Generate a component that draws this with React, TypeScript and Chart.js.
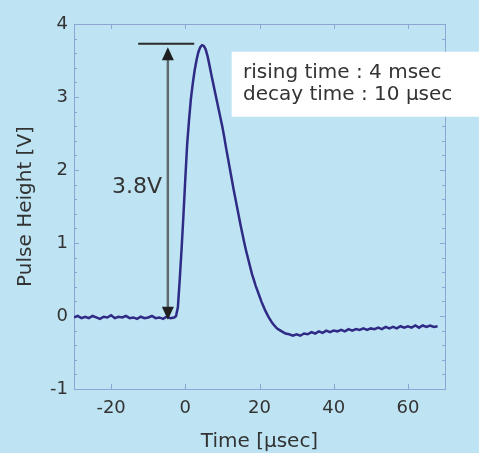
import React, { useEffect, useRef } from 'react';
import { Chart, registerables } from 'chart.js';

Chart.register(...registerables);

// ---- data ----
const timeUs = [
  -30, -29, -28, -27, -26, -25, -24, -23, -22, -21, -20, -19, -18, -17, -16, -15, -14, -13, -12, -11,
  -10, -9, -8, -7, -6, -5, -4, -3, -2.5, -2, -1.5, -1, -0.5, 0, 0.5, 1, 1.5, 2, 2.5, 3,
  3.5, 4, 4.5, 5, 5.5, 6, 6.5, 7, 7.5, 8, 8.5, 9, 9.5, 10, 10.5, 11, 11.5, 12, 12.5, 13,
  13.5, 14, 14.5, 15, 15.5, 16, 16.5, 17, 17.5, 18, 18.5, 19, 19.5, 20, 20.5, 21, 21.5, 22, 22.5, 23,
  23.5, 24, 24.5, 25, 26, 27, 28, 29, 30, 31, 32, 33, 34, 35, 36, 37, 38, 39, 40, 41,
  42, 43, 44, 45, 46, 47, 48, 49, 50, 51, 52, 53, 54, 55, 56, 57, 58, 59, 60, 61,
  62, 63, 64, 65, 66, 67, 68,
];
const pulseV = [
  -0.02, 0.0, -0.03, -0.01, -0.03, 0.0, -0.02, -0.04, -0.01, -0.02, 0.01, -0.03, -0.01, -0.02, 0.0, -0.03, -0.02, -0.04, -0.01, -0.03,
  -0.02, 0.0, -0.03, -0.02, -0.04, -0.01, -0.03, -0.02, 0.0, 0.12, 0.5, 0.92, 1.38, 1.88, 2.35, 2.68, 2.97, 3.18, 3.36, 3.5,
  3.61, 3.68, 3.71, 3.7, 3.65, 3.56, 3.44, 3.31, 3.19, 3.07, 2.95, 2.83, 2.71, 2.59, 2.45, 2.3, 2.16, 2.02, 1.88, 1.74,
  1.61, 1.48, 1.35, 1.22, 1.1, 0.98, 0.87, 0.77, 0.67, 0.57, 0.49, 0.41, 0.34, 0.27, 0.2, 0.14, 0.08, 0.03, -0.02, -0.06,
  -0.1, -0.13, -0.16, -0.18, -0.21, -0.24, -0.25, -0.27, -0.25, -0.27, -0.24, -0.25, -0.22, -0.24, -0.21, -0.23, -0.2, -0.22, -0.2, -0.21,
  -0.19, -0.21, -0.18, -0.2, -0.18, -0.19, -0.17, -0.19, -0.17, -0.18, -0.16, -0.18, -0.15, -0.17, -0.15, -0.17, -0.14, -0.16, -0.14, -0.16,
  -0.13, -0.16, -0.13, -0.15, -0.13, -0.15, -0.14,
];
const xTicks = [-20, 0, 20, 40, 60];
const yTicks = [-1, 0, 1, 2, 3, 4];
const xRange = [-30, 70];
const yRange = [-1, 4];
const xTitle = 'Time [µsec]';
const yTitle = 'Pulse Height [V]';
const noteLines = ['rising time : 4 msec', 'decay time : 10 µsec'];
const heightLabel = '3.8V';
// arrow annotation (data coordinates)
const arrowX = -4.7;
const arrowTopV = 3.68;
const arrowBottomV = -0.05;
const capLineV = 3.73;
const capLineFrom = -12.7;
const capLineTo = 2.4;

const FONT = '"DejaVu Sans", "Liberation Sans", sans-serif';
const BG = '#bee4f3';
const FRAME = '#8ea4d2';
const TEXT = '#333333';
const LINE = '#2f2a86';

const overlay = {
  id: 'overlay',
  beforeDatasetsDraw(chart: any) {
    const { ctx, chartArea: a, scales } = chart;
    const xs = scales.x;
    const ys = scales.y;
    ctx.save();
    ctx.strokeStyle = FRAME;
    ctx.lineWidth = 1;
    ctx.strokeRect(Math.round(a.left) + 0.5, Math.round(a.top) + 0.5, Math.round(a.right - a.left), Math.round(a.bottom - a.top));
    ctx.beginPath();
    for (let i = 0; i <= 25; i++) {
      const v = yRange[0] + i * 0.2;
      const y = Math.round(ys.getPixelForValue(v)) + 0.5;
      const len = i % 5 === 0 ? 5 : 3;
      ctx.moveTo(a.left, y);
      ctx.lineTo(a.left + len, y);
      ctx.moveTo(a.right, y);
      ctx.lineTo(a.right - len, y);
    }
    for (const v of xTicks) {
      const x = Math.round(xs.getPixelForValue(v)) + 0.5;
      ctx.moveTo(x, a.bottom);
      ctx.lineTo(x, a.bottom - 5);
      ctx.moveTo(x, a.top);
      ctx.lineTo(x, a.top + 5);
    }
    ctx.stroke();
    ctx.restore();
  },
  afterDatasetsDraw(chart: any) {
    const { ctx, scales } = chart;
    const xs = scales.x;
    const ys = scales.y;
    ctx.save();
    const capY = ys.getPixelForValue(capLineV);
    ctx.strokeStyle = '#2a2a2a';
    ctx.lineWidth = 2;
    ctx.beginPath();
    ctx.moveTo(xs.getPixelForValue(capLineFrom), capY);
    ctx.lineTo(xs.getPixelForValue(capLineTo), capY);
    ctx.stroke();
    const ax = xs.getPixelForValue(arrowX);
    const tTop = ys.getPixelForValue(arrowTopV);
    const tBot = ys.getPixelForValue(arrowBottomV);
    const headH = 13;
    const headW = 6;
    ctx.strokeStyle = '#5e6a70';
    ctx.lineWidth = 2.5;
    ctx.beginPath();
    ctx.moveTo(ax, tTop + headH - 1);
    ctx.lineTo(ax, tBot - headH + 1);
    ctx.stroke();
    ctx.fillStyle = '#1f1f1f';
    ctx.beginPath();
    ctx.moveTo(ax, tTop);
    ctx.lineTo(ax - headW, tTop + headH);
    ctx.lineTo(ax + headW, tTop + headH);
    ctx.closePath();
    ctx.fill();
    ctx.beginPath();
    ctx.moveTo(ax, tBot);
    ctx.lineTo(ax - headW, tBot - headH);
    ctx.lineTo(ax + headW, tBot - headH);
    ctx.closePath();
    ctx.fill();
    ctx.fillStyle = TEXT;
    ctx.font = `22px ${FONT}`;
    ctx.textAlign = 'right';
    ctx.textBaseline = 'alphabetic';
    ctx.fillText(heightLabel, xs.getPixelForValue(-6.3), ys.getPixelForValue(1.69));
    const bx = xs.getPixelForValue(12.5);
    const bTop = ys.getPixelForValue(3.62);
    const bBot = ys.getPixelForValue(2.73);
    ctx.fillStyle = '#ffffff';
    ctx.fillRect(bx, bTop, chart.width - bx, bBot - bTop);
    ctx.fillStyle = TEXT;
    ctx.font = `20px ${FONT}`;
    ctx.textAlign = 'left';
    const tx = xs.getPixelForValue(15.55);
    ctx.fillText(noteLines[0], tx, ys.getPixelForValue(3.26));
    ctx.fillText(noteLines[1], tx, ys.getPixelForValue(2.96));
    ctx.restore();
  },
};

export default function App() {
  const ref = useRef<HTMLCanvasElement>(null);
  useEffect(() => {
    document.body.style.margin = '0';
    document.body.style.background = BG;
    const canvas = ref.current!;
    const chart = new Chart(canvas, {
      type: 'line',
      data: {
        datasets: [
          {
            data: timeUs.map((t, i) => ({ x: t, y: pulseV[i] })),
            borderColor: LINE,
            borderWidth: 2.5,
            pointRadius: 0,
            tension: 0,
            fill: false,
          },
        ],
      },
      options: {
        responsive: false,
        animation: false,
        events: [],
        layout: { padding: { left: 0, top: 24, right: 34, bottom: 0 } },
        plugins: { legend: { display: false }, tooltip: { enabled: false } },
        scales: {
          x: {
            type: 'linear',
            min: xRange[0],
            max: xRange[1],
            grid: { display: false, drawTicks: false },
            border: { display: false },
            afterBuildTicks: (s: any) => {
              s.ticks = xTicks.map((v) => ({ value: v }));
            },
            afterFit: (s: any) => {
              s.height = 64;
            },
            ticks: { padding: 9, color: TEXT, font: { family: FONT, size: 18 }, maxRotation: 0, autoSkip: false },
            title: { display: true, text: xTitle, color: TEXT, font: { family: FONT, size: 20 }, padding: { top: 0, bottom: -1 } },
          },
          y: {
            type: 'linear',
            min: yRange[0],
            max: yRange[1],
            grid: { display: false, drawTicks: false },
            border: { display: false },
            afterBuildTicks: (s: any) => {
              s.ticks = yTicks.map((v) => ({ value: v }));
            },
            afterFit: (s: any) => {
              s.width = 74;
            },
            ticks: { padding: 6, color: TEXT, font: { family: FONT, size: 18 }, autoSkip: false },
            title: { display: true, text: yTitle, color: TEXT, font: { family: FONT, size: 20 }, padding: { top: 14, bottom: 0 } },
          },
        },
      },
      plugins: [overlay],
    } as any);
    return () => chart.destroy();
  }, []);
  return (
    <div style={{ position: 'fixed', left: 0, top: 0, width: 479, height: 453, background: BG }}>
      <canvas ref={ref} width={479} height={453} style={{ width: 479, height: 453 }} />
    </div>
  );
}
